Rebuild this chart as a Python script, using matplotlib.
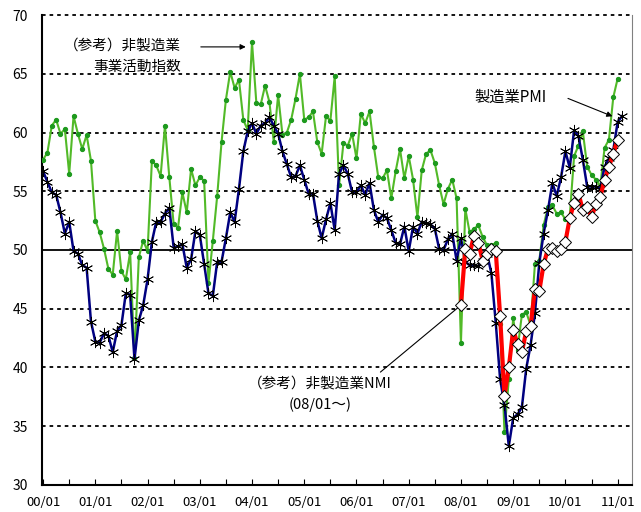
import matplotlib
matplotlib.use("Agg")
import matplotlib.pyplot as plt
import numpy as np

plt.rcParams['font.family'] = ['Noto Sans CJK JP', 'DejaVu Sans']

# 製造業PMI (2000/01 - 2011/02)
pmi = [56.7, 55.8, 54.9, 54.7, 53.2, 51.4, 52.4, 49.9, 49.7, 48.7, 48.5, 43.9,
       42.2, 42.1, 42.9, 42.7, 41.3, 43.1, 43.6, 46.3, 46.2, 40.7, 44.0, 45.3,
       47.5, 50.7, 52.4, 52.4, 53.1, 53.6, 50.2, 50.3, 50.5, 48.5, 49.2, 51.6,
       51.3, 48.8, 46.3, 46.1, 49.0, 49.0, 51.0, 53.2, 52.4, 55.2, 58.4, 60.1,
       60.8, 59.9, 60.6, 60.8, 61.3, 60.6, 59.9, 58.4, 57.3, 56.2, 56.3, 57.2,
       56.0, 54.8, 54.8, 52.5, 51.0, 52.6, 54.0, 51.7, 56.5, 57.2, 56.5, 54.9,
       54.9, 55.5, 54.7, 55.7, 53.4, 52.4, 53.0, 52.7, 51.7, 50.6, 50.5, 52.0,
       49.9, 52.0, 51.4, 52.4, 52.3, 52.2, 51.8, 50.1, 50.0, 50.9, 51.4, 49.1,
       51.0, 49.0, 48.7, 48.7, 48.6, 49.1, 49.7, 48.0, 43.8, 39.0, 36.8, 33.3,
       35.7, 36.0, 36.6, 39.9, 41.9, 44.6, 48.9, 51.4, 53.4, 55.7, 54.6, 56.2,
       58.4, 57.0, 60.2, 59.7, 57.7, 55.4, 55.4, 55.4, 55.2, 57.1, 57.8, 58.5,
       60.9, 61.4]

# 非製造業 事業活動指数 (2000/01 - 2011/01)
biz = [57.7, 58.3, 60.6, 61.1, 59.9, 60.3, 56.5, 61.4, 59.9, 58.6, 59.8, 57.6,
       52.5, 51.5, 50.1, 48.4, 47.9, 51.6, 48.2, 47.5, 49.8, 40.8, 49.4, 50.8,
       49.9, 57.6, 57.2, 56.3, 60.6, 56.2, 52.2, 51.9, 54.9, 53.2, 56.9, 55.5,
       56.2, 55.9, 47.2, 50.8, 54.6, 59.2, 62.8, 65.2, 63.8, 64.5, 61.1, 60.2,
       67.7, 62.5, 62.4, 64.0, 62.6, 59.2, 63.2, 59.8, 60.0, 61.1, 62.9, 65.0,
       61.1, 61.3, 61.8, 59.2, 58.2, 61.4, 61.0, 64.8, 55.5, 59.1, 58.9, 59.9,
       57.8, 61.6, 60.8, 61.8, 58.8, 56.2, 56.1, 56.8, 54.4, 56.7, 58.6, 56.1,
       58.0, 56.0, 52.8, 56.8, 58.2, 58.5, 57.4, 55.5, 53.9, 55.2, 56.0, 54.4,
       42.1, 53.5, 51.5, 51.8, 52.1, 51.1, 50.4, 50.4, 50.6, 43.7, 34.5, 39.0,
       44.2, 41.5, 44.5, 44.7, 43.6, 48.8, 49.1, 52.1, 53.7, 53.8, 53.1, 53.2,
       52.6, 52.9, 58.0, 58.9, 60.1, 57.1, 56.4, 56.0, 55.4, 58.7, 59.4, 63.0,
       64.6]

# 非製造業NMI (2008/01 - 2011/01)
nmi = [45.3, 50.1, 49.7, 51.2, 50.6, 49.1, 49.7, 50.1, 49.9, 44.4, 37.6, 40.0,
       43.2, 42.0, 41.3, 43.1, 43.5, 46.7, 46.5, 48.8, 50.1, 50.2, 49.9, 50.1,
       50.7, 52.7, 54.0, 54.8, 53.4, 53.7, 52.8, 53.9, 54.5, 56.0, 57.1, 58.2,
       59.4]
nmi_start = 96

year_labels = ['00/01', '01/01', '02/01', '03/01', '04/01', '05/01',
               '06/01', '07/01', '08/01', '09/01', '10/01', '11/01']

x_pmi = np.arange(len(pmi))
x_biz = np.arange(len(biz))
x_nmi = np.arange(len(nmi)) + nmi_start

fig = plt.figure(figsize=(6.41, 5.12), dpi=100)
ax = fig.add_axes([42 / 641, 27.2 / 512, 590 / 641, 469.6 / 512])

# 非製造業 事業活動指数
ax.plot(x_biz, biz, color='#52BA28', lw=1.5, marker='o', ms=2.8,
        mfc='#1E9A1E', mec='#1E9A1E', zorder=3)
# 製造業PMI
ax.plot(x_pmi, pmi, color='#000080', lw=1.8, marker=(6, 2, 0), ms=8,
        mec='black', mew=0.6, zorder=4)
# 非製造業NMI
ax.plot(x_nmi, nmi, color='#FF0000', lw=3, marker='D', ms=6.5,
        mfc='white', mec='black', mew=0.7, zorder=5)

ax.set_xlim(-0.25, 135.3)
ax.set_ylim(30, 70)

# グリッド
for v in [35, 40, 45, 55, 60, 65, 70]:
    ax.axhline(v, color='black', lw=1.3, ls=(0, (2, 2.2)), zorder=1,
               clip_on=False)
ax.axhline(50, color='black', lw=1.3, zorder=2)

ax.set_yticks(np.arange(30, 71, 5))
ax.set_xticks(np.arange(0, 133, 12))
ax.set_xticklabels(year_labels)
ax.set_xticks(np.arange(6, 133, 12), minor=True)
ax.tick_params(axis='x', which='both', direction='in', length=4, width=0.8,
               labelsize=9.5, pad=8)
ax.tick_params(axis='y', length=0, labelsize=10, pad=10)

ax.spines['top'].set_visible(False)
ax.spines['right'].set_color('#808080')
ax.spines['right'].set_linewidth(0.8)
ax.spines['left'].set_linewidth(1.5)
ax.spines['bottom'].set_linewidth(1.5)

# 注記
ax.text(31.6, 67.4, '（参考）非製造業', ha='right', va='center', fontsize=10.5)
ax.text(31.6, 65.6, '事業活動指数', ha='right', va='center', fontsize=10.5)
ax.annotate('', xy=(47.2, 67.3), xytext=(35.6, 67.3),
            arrowprops=dict(arrowstyle='-|>', color='black', lw=0.8,
                            mutation_scale=8))

ax.text(107.3, 63.0, '製造業PMI', ha='center', va='center', fontsize=11)
ax.annotate('', xy=(131.4, 61.3), xytext=(120.0, 63.0),
            arrowprops=dict(arrowstyle='-|>', color='black', lw=0.8,
                            mutation_scale=8))

ax.text(63.6, 38.6, '（参考）非製造業NMI', ha='center', va='center', fontsize=10.5)
ax.text(63.6, 36.8, '(08/01～)', ha='center', va='center', fontsize=10.5)
ax.annotate('', xy=(96, 45.3), xytext=(77.5, 39.6),
            arrowprops=dict(arrowstyle='-', color='black', lw=0.8,
                            shrinkA=0, shrinkB=3))

fig.savefig('out.png', dpi=100)
